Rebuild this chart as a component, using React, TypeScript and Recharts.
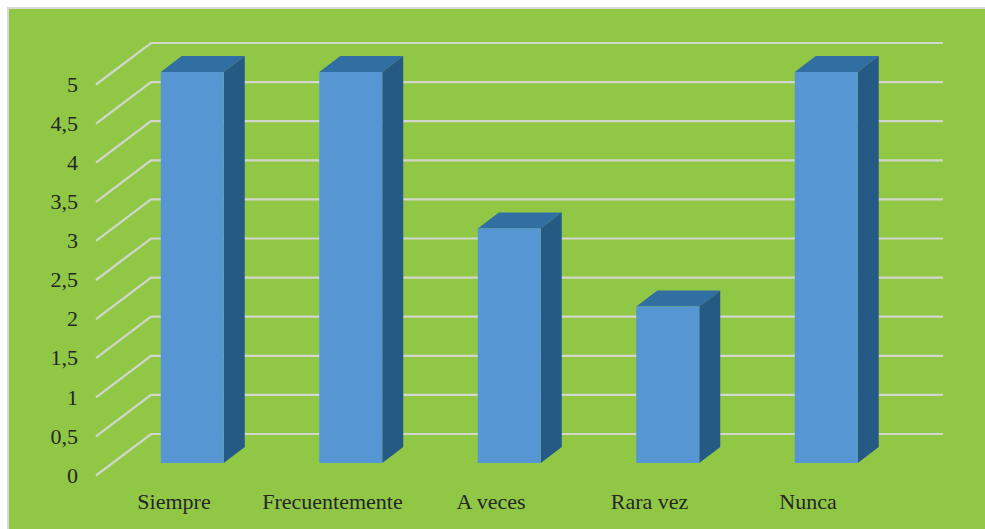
import { BarChart, Bar, XAxis, YAxis, CartesianGrid } from "recharts";

const categories = ["Siempre", "Frecuentemente", "A veces", "Rara vez", "Nunca"];
const values = [5, 5, 3, 2, 5];
const yTicks = [0, 0.5, 1, 1.5, 2, 2.5, 3, 3.5, 4, 4.5, 5];

const data = categories.map((name, i) => ({ name, value: values[i] }));

const DEPTH_X = 21;
const DEPTH_Y = 16;
const FONT = "'Liberation Serif', serif";

// 3d box: front face plus top and right side
function Box3D({ x, y, width, height }: any) {
  const r = x + width;
  const b = y + height;
  return (
    <g>
      <polygon
        points={`${x},${y} ${x + DEPTH_X},${y - DEPTH_Y} ${r + DEPTH_X},${y - DEPTH_Y} ${r},${y}`}
        fill="#316fa3"
      />
      <polygon
        points={`${r},${y} ${r + DEPTH_X},${y - DEPTH_Y} ${r + DEPTH_X},${b - DEPTH_Y} ${r},${b}`}
        fill="#255a85"
      />
      <rect x={x} y={y} width={width} height={height} fill="#5596d3" />
    </g>
  );
}

// gridline runs from the front edge up to the back wall, then along it
function GridLine({ y1 }: any) {
  const back = y1 - 29;
  return (
    <polyline
      points={`96,${y1 + 12.5} 151,${back} 943,${back}`}
      fill="none"
      stroke="#d2d6cc"
      strokeWidth={2.2}
    />
  );
}

function YTick({ y, payload }: any) {
  return (
    <text x={78} y={y + 12} dy="0.35em" textAnchor="end" fontFamily={FONT} fontSize={22} fill="#262626">
      {String(payload.value).replace(".", ",")}
    </text>
  );
}

function XTick({ x, y, payload }: any) {
  return (
    <text x={x - 18} y={y + 38} textAnchor="middle" fontFamily={FONT} fontSize={22} fill="#262626">
      {payload.value}
    </text>
  );
}

export default function App() {
  return (
    <div style={{ position: "absolute", left: 0, top: 0, width: 985, height: 529, overflow: "hidden", background: "#fff" }}>
      <div
        style={{
          position: "absolute",
          left: 7,
          top: 7,
          width: 985,
          height: 529,
          boxSizing: "border-box",
          background: "#90c846",
          border: "2px solid #d9d9d9",
        }}
      />
      <div style={{ position: "absolute", left: 0, top: 0 }}>
        <BarChart
          width={985}
          height={529}
          data={data}
          margin={{ top: 72, right: 79.75, bottom: 0, left: 72.75 }}
        >
          <CartesianGrid vertical={false} horizontal={(p: any) => <GridLine key={p.key} {...p} />} />
          <XAxis
            dataKey="name"
            axisLine={false}
            tickLine={false}
            interval={0}
            height={66}
            tick={<XTick />}
          />
          <YAxis
            width={40}
            domain={[0, 5]}
            ticks={yTicks}
            axisLine={false}
            tickLine={false}
            tick={<YTick />}
          />
          <Bar dataKey="value" barSize={63} shape={<Box3D />} isAnimationActive={false} />
        </BarChart>
      </div>
    </div>
  );
}
